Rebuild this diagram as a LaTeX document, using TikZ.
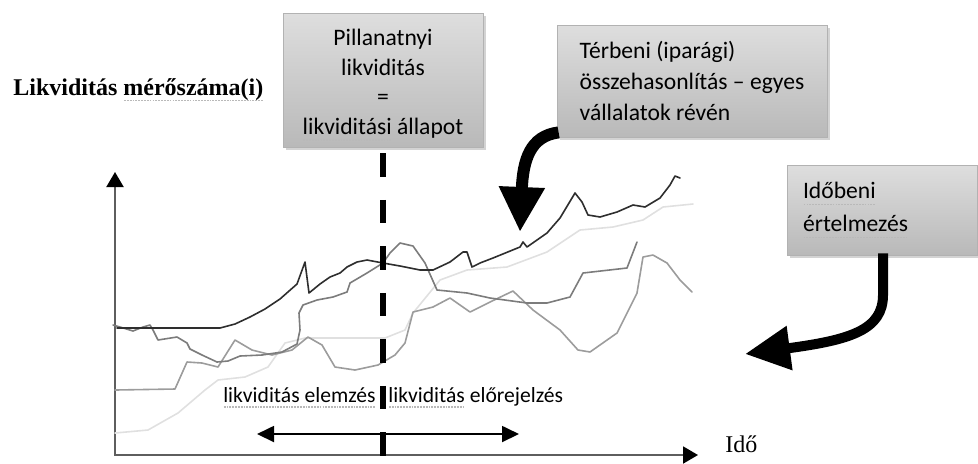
\documentclass[tikz,border=0pt]{standalone}
\usepackage{fontspec}
\setmainfont{Liberation Serif}
\newfontfamily\calib{Carlito}
\usetikzlibrary{arrows.meta,shadows,calc}
\definecolor{lineA}{HTML}{2E2E2E}
\definecolor{lineB}{HTML}{7C7C7C}
\definecolor{lineC}{HTML}{9C9C9C}
\definecolor{lineD}{HTML}{E0E0E0}
\definecolor{axisgray}{HTML}{5E5E5E}
\newsavebox\sqbox
\newcommand\sq[1]{\sbox\sqbox{#1}\leavevmode\rlap{\usebox\sqbox}\lower0.55ex\hbox to\wd\sqbox{\textcolor{gray!55}{\xleaders\hbox to 1.4pt{\hss\rule{0.9pt}{0.6pt}\hss}\hfill}}}
\begin{document}
\begin{tikzpicture}[x=0.5pt,y=-0.5pt,
  box/.style={draw=gray!60, line width=0.4pt, top color=gray!26, middle color=gray!6, bottom color=gray!55,
    drop shadow={shadow xshift=1.5pt,shadow yshift=-1.5pt,opacity=0.35}, inner sep=0pt},
  boxfont/.style={font=\calib\fontsize{11.8}{14.8}\selectfont},
  lbl/.style={font=\calib\fontsize{10.8}{13}\selectfont, inner sep=0pt},
  axis/.style={draw=axisgray, line width=1pt},
  curve/.style={line width=0.8pt, line join=round, line cap=round},
  bigarrow/.style={line width=6pt, -{Triangle[length=22.5pt,width=21.5pt]}},
  bigarrowb/.style={line width=5pt, -{Triangle[length=22.5pt,width=21pt]}}]
\useasboundingbox (0,0) rectangle (978,463);

% title
\node[anchor=base west, inner sep=0pt, font=\bfseries\fontsize{12}{14}\selectfont] (title) at (13,95) {Likviditás \sq{mérőszáma(i)}};

% axes
\coordinate (O) at (115,455);
\coordinate (ytip) at (115,172);
\coordinate (xtip) at (698,455);
\draw[axis, {Triangle[length=7.5pt,width=8.5pt,color=black]}-{Triangle[length=7.5pt,width=8.5pt,color=black]}] (ytip) -- (O) -- (xtip);
\node[anchor=base west, inner sep=0pt, font=\fontsize{12}{14}\selectfont] (ido) at (725,452) {Idő};

% curves
\draw[curve, lineD] plot coordinates {(115,433) (148,430) (178,413) (205,390) (218,380) (245,377) (268,367) (285,343) (305,338) (385,338) (405,330) (413,313) (440,280) (467,270) (507,267) (547,252) (580,230) (613,227) (643,220) (663,207) (693,204)};
\draw[curve, lineC] plot coordinates {(115,390) (175,389) (187,362) (202,363) (218,367) (235,340) (252,350) (272,355) (292,350) (308,337) (322,345) (335,367) (355,370) (378,365) (395,355) (405,343) (413,312) (433,307) (450,298) (470,312) (490,302) (513,291) (533,310) (560,330) (578,350) (590,352) (617,333) (637,293) (643,257) (653,255) (667,263) (680,280) (692,292)};
\draw[curve, lineB] plot coordinates {(113,325) (120,327) (133,331) (143,327) (150,325) (153,330) (158,340) (177,337) (187,343) (190,349) (202,355) (217,362) (228,361) (240,356) (262,355) (282,352) (297,344) (300,330) (299,313) (303,305) (317,300) (333,297) (347,292) (350,283) (367,273) (383,263) (390,253) (400,243) (413,246) (425,263) (437,290) (467,293) (490,298) (527,303) (547,303) (570,297) (583,273) (627,268) (637,242)};
\draw[curve, lineA] plot coordinates {(117,328) (220,328) (235,324) (250,317) (265,309) (280,299) (297,284) (305,262) (309,293) (320,284) (330,277) (340,273) (347,267) (357,262) (367,260) (383,263) (400,266) (420,270) (433,270) (450,262) (463,252) (467,252) (472,267) (480,263) (493,258) (520,247) (523,242) (527,247) (547,233) (560,218) (575,193) (582,202) (588,215) (600,217) (617,212) (633,205) (645,207) (660,198) (670,185) (675,176) (680,178)};

% boxes
\node[box, boxfont, minimum width=100pt, minimum height=67pt, align=center] (pill) at (383,80)
  {\rule{0pt}{13pt}Pillanatnyi\\likviditás\\=\\\sq{likviditási} állapot};
\node[box, boxfont, minimum width=135pt, minimum height=56pt, align=left,
  font=\calib\fontsize{11.8}{15.7}\selectfont] (terb) at (692,81)
  {Térbeni (iparági)\\összehasonlítás – egyes\\vállalatok révén};
\node[box, minimum width=95pt, minimum height=45pt, align=left, text width=79pt, inner xsep=8pt,
  font=\calib\fontsize{11.8}{16.5}\selectfont] (idob) at (882,210)
  {\sq{Időbeni}\\\sq{értelmezés}};

% dashed present line
\coordinate (dbot) at (383,457);
\draw[line width=3pt, dash pattern=on 11.75pt off 11.5pt] ($(pill.south)+(0,6)$) -- (dbot);

% labels and double arrow
\node[lbl, anchor=base east] (lae) at (376,402) {\sq{likviditás elemzés}};
\node[lbl, anchor=base west] (lfe) at (388,402) {\sq{likviditás} előrejelzés};
\coordinate (la) at (257,434);
\coordinate (ra) at (519,434);
\draw[line width=0.9pt, {Triangle[length=8.5pt,width=8pt]}-{Triangle[length=8.5pt,width=8pt]}] (la) -- (ra);

% big curved arrows
\coordinate (tipA) at (520,232);
\coordinate (tipB) at (745,354);
\draw[bigarrow] ($(terb.south west)+(2,-5)$) .. controls (530,136) and (523,160) .. (tipA);
\draw[bigarrowb] ($(idob.south)+(1,-2)$) -- (883,295) .. controls (883,330) and (850,340) .. (tipB);
\end{tikzpicture}
\end{document}
